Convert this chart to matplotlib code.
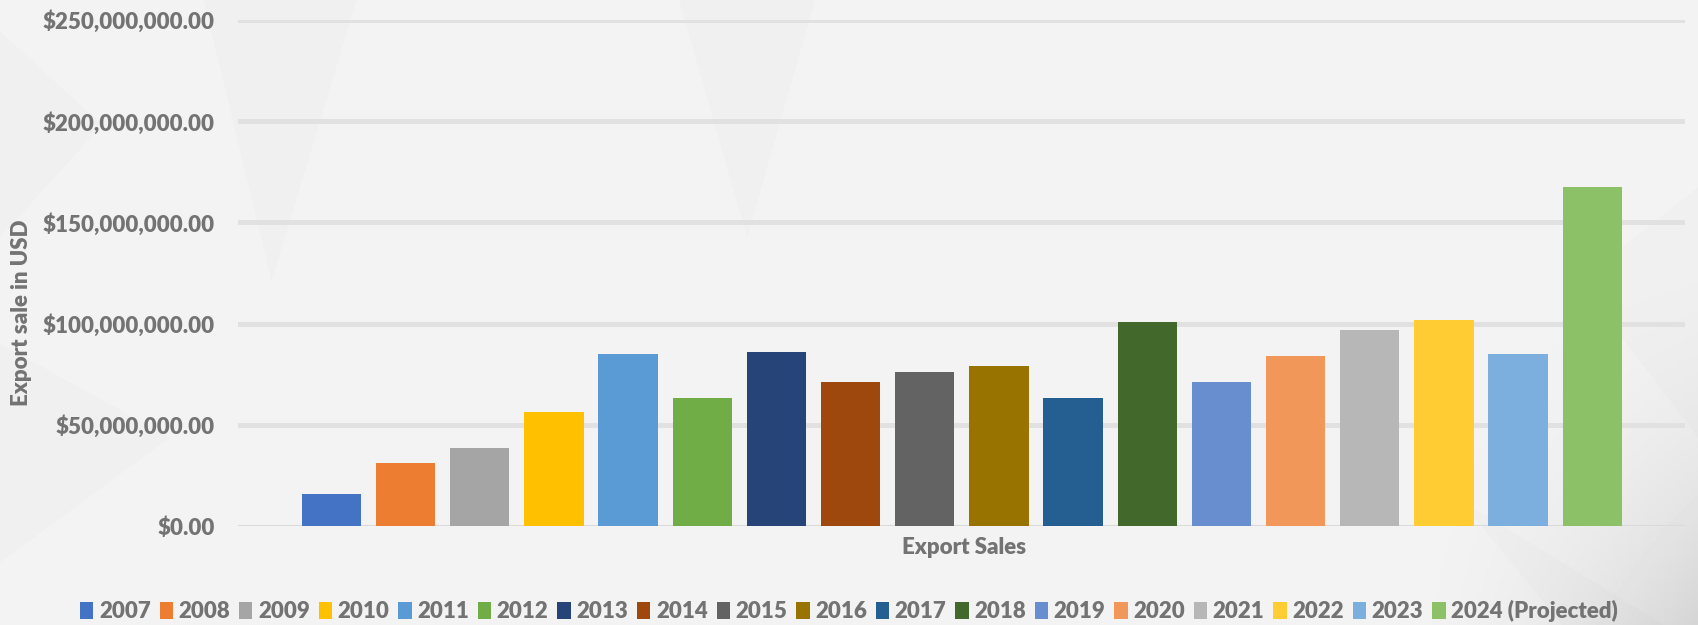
import numpy as np
import matplotlib.pyplot as plt
from matplotlib.patches import Polygon
from matplotlib.ticker import FuncFormatter

plt.rcParams['font.family'] = ['Lato', 'DejaVu Sans']
plt.rcParams['font.weight'] = 'heavy'

# Data
years = ['2007', '2008', '2009', '2010', '2011', '2012', '2013', '2014', '2015',
         '2016', '2017', '2018', '2019', '2020', '2021', '2022', '2023',
         '2024 (Projected)']
sales = [15.7e6, 31.0e6, 38.5e6, 56.3e6, 85.0e6, 63.2e6, 86.0e6, 71.1e6, 76.3e6,
         79.0e6, 63.2e6, 100.8e6, 71.1e6, 84.0e6, 96.9e6, 101.8e6, 85.0e6, 167.7e6]
colors = ['#4472C4', '#ED7D31', '#A5A5A5', '#FFC000', '#5B9BD5', '#70AD47',
          '#264478', '#9E480E', '#636363', '#997300', '#255E91', '#43682B',
          '#698ED0', '#F1975A', '#B7B7B7', '#FFCD33', '#7CAFDD', '#8CC168']
yticks = [0, 50e6, 100e6, 150e6, 200e6, 250e6]

txt = '#737373'

fig = plt.figure(figsize=(16.98, 6.25), dpi=100, facecolor='#f4f4f4')

# soft background: gradient darker toward bottom-right + faint triangles
bgax = fig.add_axes([0, 0, 1, 1], zorder=-2)
gx, gy = np.meshgrid(np.linspace(0, 1, 400), np.linspace(0, 1, 150))
d = np.clip((gx - 0.8) / 0.2, 0, 1) * np.clip((gy - 0.3) / 0.7, 0, 1)
bgax.imshow(0.955 - 0.12 * d ** 2, cmap='gray', vmin=0, vmax=1, aspect='auto',
            extent=[0, 1, 0, 1], origin='upper')
bgax.axis('off')
bg = [
    [(0.0, 0.95), (0.06, 0.80), (0.0, 0.62)],
    [(0.0, 0.45), (0.1, 0.30), (0.0, 0.10)],
    [(0.12, 1.0), (0.21, 1.0), (0.16, 0.55)],
    [(0.40, 1.0), (0.48, 1.0), (0.44, 0.62)],
    [(0.86, 0.20), (0.92, 0.0), (0.98, 0.0)],
    [(0.93, 0.55), (1.0, 0.30), (1.0, 0.70)],
]
for tri in bg:
    bgax.add_patch(Polygon(tri, closed=True, facecolor='#9a9a9a', alpha=0.03, lw=0))

ax = fig.add_axes([0.1402, 0.1584, 0.8521, 0.8096])
ax.set_facecolor('none')

x = np.arange(len(years))
handles = []
for i in range(len(years)):
    b = ax.bar(x[i], sales[i], width=0.8, color=colors[i], label=years[i], zorder=3)
    handles.append(b)

ax.set_xlim(-1.26, len(years) - 1 + 1.25)
ax.set_ylim(0, 250e6)
ax.set_yticks(yticks)
ax.yaxis.set_major_formatter(FuncFormatter(lambda v, p: '${:,.2f}'.format(v)))
ax.tick_params(axis='y', length=0, pad=17, labelsize=16, labelcolor=txt)
ax.set_xticks([])
for s in ax.spines.values():
    s.set_visible(False)

for t in yticks[1:]:
    ax.axhline(t, color='#e1e1e1', lw=3.6, zorder=1)
ax.axhline(0, color='#dadada', lw=1.5, zorder=2)

fig.text(0.0125, 0.50, 'Export sale in USD', rotation=90, ha='center', va='center',
         fontsize=16, color=txt)
fig.text(0.5675, 0.124, 'Export Sales', ha='center', va='center',
         fontsize=16, color=txt)

leg = fig.legend(handles=handles, labels=years, loc='center', ncol=len(years),
                 bbox_to_anchor=(0.5, 0.022), frameon=False, fontsize=16,
                 handlelength=0.6, handleheight=0.85, handletextpad=0.25,
                 columnspacing=0.4, borderaxespad=0)
for t in leg.get_texts():
    t.set_color(txt)

fig.savefig('out.png', dpi=100, facecolor=fig.get_facecolor())
